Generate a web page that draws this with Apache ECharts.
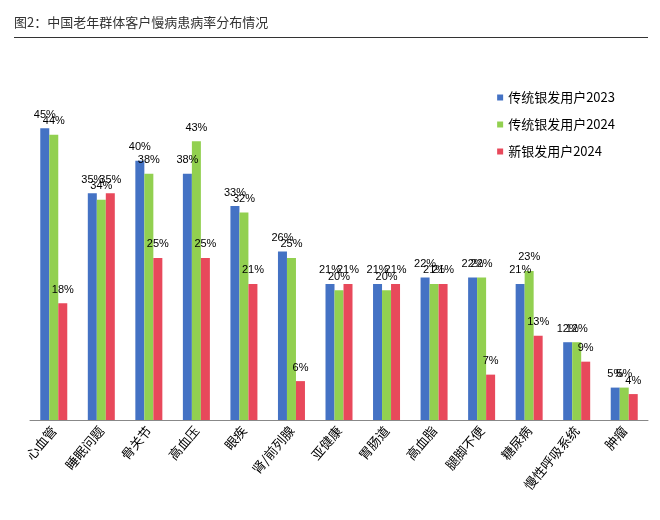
<!DOCTYPE html>
<html>
<head>
<meta charset="utf-8">
<script src="https://cdn.jsdelivr.net/npm/echarts@6/dist/echarts.min.js"></script>
<style>
	body { margin: 0; background: #fff; }
	#title { position: absolute; left: 14px; top: 12px; width: 634px; font: 13px "Noto Sans CJK SC"; color: #333; border-bottom: 1.5px solid #333; padding-bottom: 6px; }
	#chart { position: absolute; left: 0; top: 0; width: 660px; height: 520px; }
</style>
</head>
<body>
<div id="chart"></div>
<div id="title">图2：中国老年群体客户慢病患病率分布情况</div>
<script>
	// 类别与数据（%）
	const categories = ['心血管', '睡眠问题', '骨关节', '高血压', '眼疾', '肾/前列腺', '亚健康', '胃肠道', '高血脂', '腿脚不便', '糖尿病', '慢性呼吸系统', '肿瘤'];
	const seriesNames = ['传统银发用户2023', '传统银发用户2024', '新银发用户2024'];
	const data2023 = [45, 35, 40, 38, 33, 26, 21, 21, 22, 22, 21, 12, 5];
	const data2024 = [44, 34, 38, 43, 32, 25, 20, 20, 21, 22, 23, 12, 5];
	const dataNew2024 = [18, 35, 25, 25, 21, 6, 21, 21, 21, 7, 13, 9, 4];
	const colors = ['#4472C4', '#92D050', '#E8495B'];

	const chart = echarts.init(document.getElementById('chart'));
	const allData = [data2023, data2024, dataNew2024];
	const option = {
		color: colors,
		grid: { left: 30, right: 12, top: 70, bottom: 100 },
		legend: {
			orient: 'vertical',
			right: 40,
			top: 86,
			itemWidth: 6,
			itemHeight: 6,
			itemGap: 14,
			icon: 'rect',
			textStyle: { fontSize: 13, color: '#000', fontFamily: 'Noto Sans CJK SC' }
		},
		xAxis: {
			type: 'category',
			data: categories,
			axisLine: { lineStyle: { color: '#888' } },
			axisTick: { show: false },
			axisLabel: { rotate: 50, interval: 0, fontSize: 13, color: '#000', fontFamily: 'Noto Sans CJK SC', margin: 8 }
		},
		yAxis: {
			type: 'value',
			min: 0,
			max: 54,
			show: false
		},
		series: seriesNames.map((name, i) => ({
			name: name,
			type: 'bar',
			data: allData[i],
			barWidth: 9,
			barGap: '0%',
			label: {
				show: true,
				position: 'top',
				formatter: '{c}%',
				fontSize: 11,
				color: '#000',
				distance: 8
			}
		}))
	};
	chart.setOption(option);
</script>
</body>
</html>
